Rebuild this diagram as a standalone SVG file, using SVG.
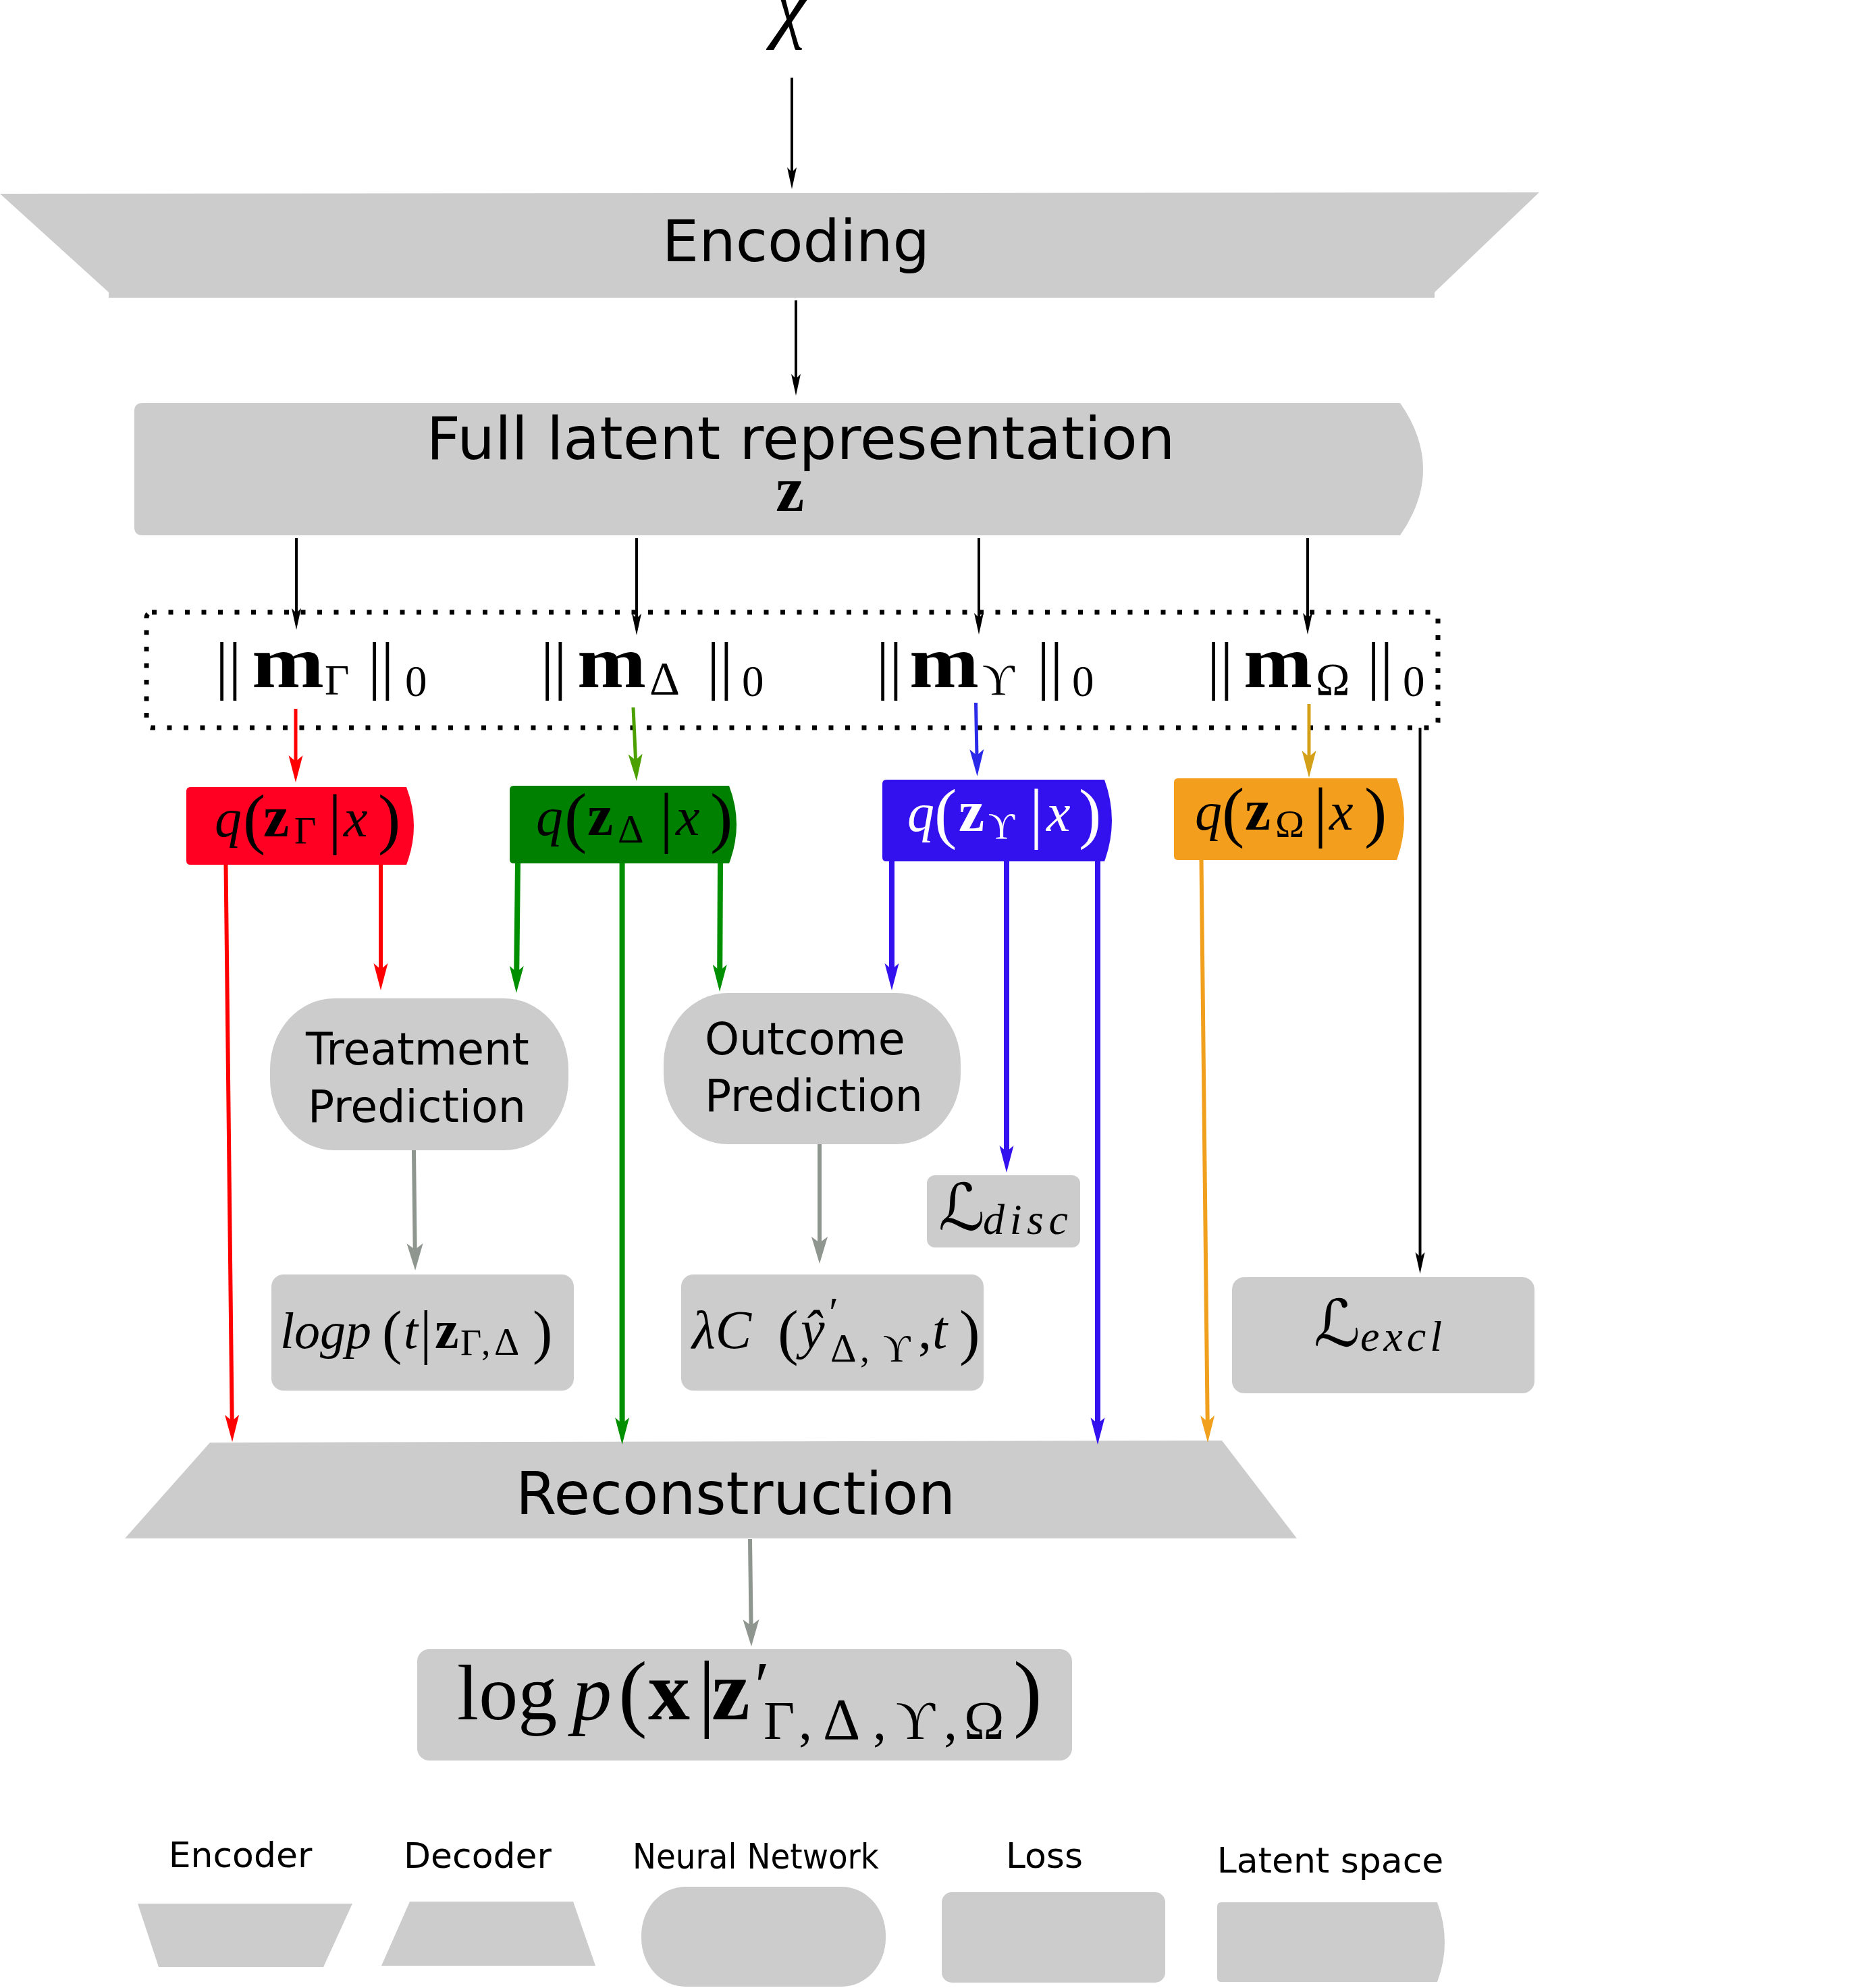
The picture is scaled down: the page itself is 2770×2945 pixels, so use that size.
<svg xmlns="http://www.w3.org/2000/svg" width="2770" height="2945" viewBox="0 0 2770 2945">
<style>
.sh{fill:#cccccc;stroke:none}
.lbl{font-family:"DejaVu Sans","Liberation Sans",sans-serif;fill:#000}
.mt{font-family:"Liberation Serif","DejaVu Serif",serif;fill:#000}
.it{font-style:italic}
.bd{font-weight:bold}
.cal{font-family:"DejaVu Serif","DejaVu Sans",serif;font-style:normal}
</style>
<defs>
<marker id="mk" viewBox="0 -8 32 16" refX="8" refY="0" markerWidth="32" markerHeight="16" markerUnits="userSpaceOnUse" orient="auto"><path d="M32,0 L0,-7 L7,0 L0,7 Z" fill="#000"/></marker>
<marker id="mr" viewBox="0 -11 40 22" refX="10" refY="0" markerWidth="40" markerHeight="22" markerUnits="userSpaceOnUse" orient="auto"><path d="M40,0 L0,-10.5 L9,0 L0,10.5 Z" fill="#ff0000"/></marker>
<marker id="mgl" viewBox="0 -11 40 22" refX="10" refY="0" markerWidth="40" markerHeight="22" markerUnits="userSpaceOnUse" orient="auto"><path d="M40,0 L0,-10.5 L9,0 L0,10.5 Z" fill="#4ca000"/></marker>
<marker id="mbl" viewBox="0 -11 40 22" refX="10" refY="0" markerWidth="40" markerHeight="22" markerUnits="userSpaceOnUse" orient="auto"><path d="M40,0 L0,-10.5 L9,0 L0,10.5 Z" fill="#2a2ae8"/></marker>
<marker id="mol" viewBox="0 -11 40 22" refX="10" refY="0" markerWidth="40" markerHeight="22" markerUnits="userSpaceOnUse" orient="auto"><path d="M40,0 L0,-10.5 L9,0 L0,10.5 Z" fill="#d4a017"/></marker>
<marker id="mg" viewBox="0 -11 40 22" refX="10" refY="0" markerWidth="40" markerHeight="22" markerUnits="userSpaceOnUse" orient="auto"><path d="M40,0 L0,-10.5 L9,0 L0,10.5 Z" fill="#008f00"/></marker>
<marker id="mb" viewBox="0 -11 40 22" refX="10" refY="0" markerWidth="40" markerHeight="22" markerUnits="userSpaceOnUse" orient="auto"><path d="M40,0 L0,-10.5 L9,0 L0,10.5 Z" fill="#3311ee"/></marker>
<marker id="mo" viewBox="0 -11 40 22" refX="10" refY="0" markerWidth="40" markerHeight="22" markerUnits="userSpaceOnUse" orient="auto"><path d="M40,0 L0,-10.5 L9,0 L0,10.5 Z" fill="#f0a01c"/></marker>
<marker id="mgy" viewBox="0 -13 40 26" refX="10" refY="0" markerWidth="40" markerHeight="26" markerUnits="userSpaceOnUse" orient="auto"><path d="M40,0 L0,-12 L9,0 L0,12 Z" fill="#8f958f"/></marker>
</defs>

<g id="input">
<text class="mt it" x="1171" y="48" font-size="120" text-anchor="middle">χ</text>
</g>

<g id="encoding">
<polygon class="sh" points="0,287 2280,285 2125,433 2125,441 161,441 161,433"/>
<text class="lbl" x="1179" y="387" font-size="86" text-anchor="middle">Encoding</text>
</g>

<g id="full-latent">
<path class="sh" d="M211,597 H2074 Q2142,695 2074,793 H211 Q199,793 199,781 V609 Q199,597 211,597 Z"/>
<text class="lbl" x="1186" y="680" font-size="88" text-anchor="middle">Full latent representation</text>
<text class="mt bd" x="1170" y="757" font-size="95" text-anchor="middle">z</text>
</g>

<g id="masks">
<rect x="217" y="907" width="1913" height="171" rx="8" fill="none" stroke="#000" stroke-width="7" stroke-dasharray="7 17.5"/>
<g id="mask-gamma">
<text class="mt"><tspan x="319" y="1018" font-size="96">||</tspan><tspan x="481" y="1029" font-size="63">Γ</tspan><tspan x="545" y="1018" font-size="96">||</tspan><tspan x="600" y="1031" font-size="65">0</tspan></text>
<text class="mt bd" x="373" y="1018" font-size="110" textLength="107" lengthAdjust="spacingAndGlyphs">m</text>
</g>
<g id="mask-delta">
<text class="mt"><tspan x="801" y="1018" font-size="96">||</tspan><tspan x="962" y="1029" font-size="70">Δ</tspan><tspan x="1047" y="1018" font-size="96">||</tspan><tspan x="1099" y="1031" font-size="65">0</tspan></text>
<text class="mt bd" x="855" y="1018" font-size="110" textLength="102" lengthAdjust="spacingAndGlyphs">m</text>
</g>
<g id="mask-upsilon">
<text class="mt"><tspan x="1298" y="1018" font-size="96">||</tspan><tspan x="1455" y="1029" font-size="66">ϒ</tspan><tspan x="1536" y="1018" font-size="96">||</tspan><tspan x="1588" y="1031" font-size="65">0</tspan></text>
<text class="mt bd" x="1347" y="1018" font-size="110" textLength="103" lengthAdjust="spacingAndGlyphs">m</text>
</g>
<g id="mask-omega">
<text class="mt"><tspan x="1788" y="1018" font-size="96">||</tspan><tspan x="1949" y="1029" font-size="68">Ω</tspan><tspan x="2025" y="1018" font-size="96">||</tspan><tspan x="2078" y="1031" font-size="65">0</tspan></text>
<text class="mt bd" x="1842" y="1018" font-size="110" textLength="102" lengthAdjust="spacingAndGlyphs">m</text>
</g>
</g>

<g id="q-gamma">
<path fill="#ff0022" d="M282,1166 H602 Q624,1223.5 602,1281 H282 Q276,1281 276,1275 V1172 Q276,1166 282,1166 Z"/>
<text class="mt"><tspan class="it" x="318" y="1239" font-size="80">q</tspan><tspan x="360" y="1246" font-size="100">(</tspan><tspan class="bd" x="390" y="1239" font-size="86">z</tspan><tspan x="436" y="1250" font-size="56">Γ</tspan><tspan x="486" y="1246" font-size="100">|</tspan><tspan class="it" x="509" y="1239" font-size="80">x</tspan><tspan x="560" y="1246" font-size="100">)</tspan></text>
</g>

<g id="q-delta">
<path fill="#008000" d="M761,1164 H1080 Q1102,1221.5 1080,1279 H761 Q755,1279 755,1273 V1170 Q755,1164 761,1164 Z"/>
<text class="mt"><tspan class="it" x="794" y="1237" font-size="80">q</tspan><tspan x="836" y="1244" font-size="100">(</tspan><tspan class="bd" x="870" y="1237" font-size="86">z</tspan><tspan x="915" y="1248" font-size="60">Δ</tspan><tspan x="977" y="1244" font-size="100">|</tspan><tspan class="it" x="1001" y="1237" font-size="80">x</tspan><tspan x="1052" y="1244" font-size="100">)</tspan></text>
</g>

<g id="q-upsilon">
<path fill="#3311ee" d="M1313,1155 H1636 Q1658,1215.5 1636,1276 H1313 Q1307,1276 1307,1270 V1161 Q1307,1155 1313,1155 Z"/>
<text class="mt" style="fill:#ffffff"><tspan class="it" x="1344" y="1231" font-size="80">q</tspan><tspan x="1384" y="1238" font-size="100">(</tspan><tspan class="bd" x="1420" y="1231" font-size="86">z</tspan><tspan x="1464" y="1242" font-size="54">ϒ</tspan><tspan x="1525" y="1238" font-size="100">|</tspan><tspan class="it" x="1550" y="1231" font-size="80">x</tspan><tspan x="1598" y="1238" font-size="100">)</tspan></text>
</g>

<g id="q-omega">
<path fill="#f39e1c" d="M1745,1153 H2069 Q2091,1213.5 2069,1274 H1745 Q1739,1274 1739,1268 V1159 Q1739,1153 1745,1153 Z"/>
<text class="mt"><tspan class="it" x="1770" y="1229" font-size="80">q</tspan><tspan x="1810" y="1236" font-size="100">(</tspan><tspan class="bd" x="1844" y="1229" font-size="86">z</tspan><tspan x="1889" y="1240" font-size="58">Ω</tspan><tspan x="1946" y="1236" font-size="100">|</tspan><tspan class="it" x="1969" y="1229" font-size="80">x</tspan><tspan x="2021" y="1236" font-size="100">)</tspan></text>
</g>

<g id="treatment-prediction">
<rect class="sh" x="400" y="1479" width="442" height="225" rx="95" ry="105"/>
<text class="lbl" font-size="65"><tspan x="453" y="1577">Treatment</tspan><tspan x="456" y="1662">Prediction</tspan></text>
</g>

<g id="outcome-prediction">
<rect class="sh" x="983" y="1471" width="440" height="224" rx="95" ry="105"/>
<text class="lbl" font-size="65"><tspan x="1044" y="1562">Outcome</tspan><tspan x="1044" y="1646">Prediction</tspan></text>
</g>

<g id="loss-disc">
<rect class="sh" x="1373" y="1741" width="227" height="107" rx="12"/>
<text class="mt cal" x="1390" y="1822" font-size="96">ℒ</text>
<text class="mt it" x="1456" y="1828" font-size="64" textLength="126" lengthAdjust="spacing">disc</text>
</g>

<g id="loss-treatment">
<rect class="sh" x="402" y="1888" width="448" height="172" rx="18"/>
<text class="mt"><tspan class="it" x="415" y="1997" font-size="76">logp</tspan><tspan x="566" y="2003" font-size="88">(</tspan><tspan class="it" x="598" y="1997" font-size="76">t</tspan><tspan x="622" y="2003" font-size="88">|</tspan><tspan class="bd" x="644" y="1997" font-size="80">z</tspan><tspan x="682" y="2007" font-size="54">Γ</tspan><tspan x="713" y="2007" font-size="54">,</tspan><tspan x="732" y="2007" font-size="58">Δ</tspan><tspan x="789" y="2003" font-size="88">)</tspan></text>
</g>

<g id="loss-outcome">
<rect class="sh" x="1009" y="1888" width="448" height="172" rx="18"/>
<text class="mt"><tspan class="it" x="1025" y="1997" font-size="80">λC</tspan><tspan x="1152" y="2004" font-size="92">(</tspan><tspan class="it" x="1186" y="1997" font-size="80">ŷ</tspan><tspan x="1228" y="1966" font-size="64">′</tspan><tspan x="1230" y="2017" font-size="60">Δ</tspan><tspan x="1274" y="2017" font-size="56">,</tspan><tspan x="1308" y="2017" font-size="56">ϒ</tspan><tspan x="1360" y="1997" font-size="80">,</tspan><tspan class="it" x="1381" y="1997" font-size="80">t</tspan><tspan x="1421" y="2004" font-size="92">)</tspan></text>
</g>

<g id="loss-excl">
<rect class="sh" x="1825" y="1892" width="448" height="172" rx="18"/>
<text class="mt cal" x="1946" y="1994" font-size="96">ℒ</text>
<text class="mt it" x="2015" y="2001" font-size="64" textLength="121" lengthAdjust="spacing">excl</text>
</g>

<g id="reconstruction">
<polygon class="sh" points="311,2137 1810,2134 1921,2279 185,2279"/>
<text class="lbl" x="764" y="2243" font-size="87">Reconstruction</text>
</g>

<g id="loss-reconstruction">
<rect class="sh" x="618" y="2443" width="970" height="165" rx="18"/>
<text class="mt"><tspan x="677" y="2547" font-size="116">log</tspan><tspan class="it" x="848" y="2547" font-size="116">p</tspan><tspan x="916" y="2549" font-size="128">(</tspan><tspan class="bd" x="960" y="2547" font-size="124">x</tspan><tspan x="1034" y="2549" font-size="128">|</tspan><tspan class="bd" x="1054" y="2547" font-size="128">z</tspan><tspan x="1118" y="2530" font-size="100">′</tspan><tspan x="1131" y="2576" font-size="80">Γ</tspan><tspan x="1183" y="2576" font-size="80">,</tspan><tspan x="1219" y="2576" font-size="86">Δ</tspan><tspan x="1293" y="2576" font-size="80">,</tspan><tspan x="1327" y="2576" font-size="80">ϒ</tspan><tspan x="1398" y="2576" font-size="80">,</tspan><tspan x="1428" y="2576" font-size="80">Ω</tspan><tspan x="1501" y="2549" font-size="128">)</tspan></text>
</g>

<g id="connectors" fill="none">
<g stroke="#000" stroke-width="4" marker-end="url(#mk)">
<line x1="1173" y1="115" x2="1173" y2="256"/>
<line x1="1179" y1="445" x2="1179" y2="562"/>
<line x1="439" y1="797" x2="439" y2="909"/>
<line x1="943" y1="797" x2="943" y2="917"/>
<line x1="1450" y1="797" x2="1450" y2="916"/>
<line x1="1937" y1="797" x2="1937" y2="916"/>
<line x1="2103.5" y1="1078" x2="2103.5" y2="1863"/>
</g>
<line x1="438" y1="1050" x2="438" y2="1129" stroke="#ff0000" stroke-width="5" marker-end="url(#mr)"/>
<line x1="938" y1="1048" x2="941.6" y2="1127" stroke="#4ca000" stroke-width="5" marker-end="url(#mgl)"/>
<line x1="1445.5" y1="1041" x2="1447" y2="1120" stroke="#2a2ae8" stroke-width="5" marker-end="url(#mbl)"/>
<line x1="1939" y1="1043" x2="1939" y2="1122" stroke="#d4a017" stroke-width="5" marker-end="url(#mol)"/>
<g stroke="#ff0000" stroke-width="6" marker-end="url(#mr)">
<line x1="334.5" y1="1281" x2="343.7" y2="2106"/>
<line x1="564" y1="1281" x2="564" y2="1437"/>
</g>
<g stroke="#008f00" stroke-width="8" marker-end="url(#mg)">
<line x1="767" y1="1279" x2="765.2" y2="1441"/>
<line x1="921.6" y1="1279" x2="921.6" y2="2110"/>
<line x1="1067" y1="1279" x2="1066.2" y2="1439"/>
</g>
<g stroke="#3311ee" stroke-width="8" marker-end="url(#mb)">
<line x1="1321" y1="1276" x2="1321" y2="1437"/>
<line x1="1491" y1="1276" x2="1491" y2="1707"/>
<line x1="1626" y1="1276" x2="1626" y2="2110"/>
</g>
<line x1="1779.5" y1="1274" x2="1788.7" y2="2107" stroke="#f0a01c" stroke-width="6" marker-end="url(#mo)"/>
<g stroke="#8f958f" stroke-width="6" marker-end="url(#mgy)">
<line x1="613" y1="1704" x2="614.7" y2="1852"/>
<line x1="1214" y1="1695" x2="1214" y2="1842"/>
<line x1="1111" y1="2280" x2="1112.6" y2="2409"/>
</g>
</g>

<g id="legend-encoder">
<text class="lbl" x="356" y="2766" font-size="52" text-anchor="middle">Encoder</text>
<polygon class="sh" points="204,2820 522,2820 479,2914 235,2914"/>
</g>
<g id="legend-decoder">
<text class="lbl" x="707.5" y="2767" font-size="52" text-anchor="middle">Decoder</text>
<polygon class="sh" points="607,2817 849,2817 882,2912 565,2912"/>
</g>
<g id="legend-neural-network">
<text class="lbl" x="1119.5" y="2768" font-size="52" text-anchor="middle" textLength="365" lengthAdjust="spacingAndGlyphs">Neural Network</text>
<rect class="sh" x="950" y="2795" width="362" height="148" rx="65" ry="72"/>
</g>
<g id="legend-loss">
<text class="lbl" x="1547" y="2767" font-size="52" text-anchor="middle">Loss</text>
<rect class="sh" x="1395" y="2803" width="331" height="134" rx="15"/>
</g>
<g id="legend-latent">
<text class="lbl" x="1970.5" y="2774" font-size="52" text-anchor="middle">Latent space</text>
<path class="sh" d="M1809,2818 H2129 Q2151,2877 2129,2936 H1809 Q1803,2936 1803,2930 V2824 Q1803,2818 1809,2818 Z"/>
</g>
</svg>
